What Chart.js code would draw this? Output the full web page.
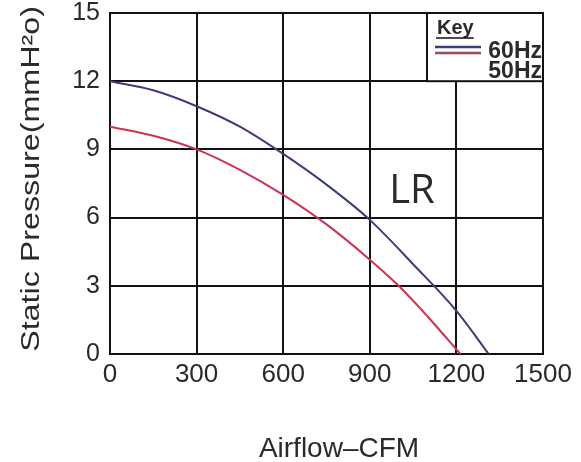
<!DOCTYPE html>
<html>
<head>
<meta charset="utf-8">
<script src="https://cdn.jsdelivr.net/npm/chart.js@4/dist/chart.umd.min.js"></script>
<style>
  html, body { margin: 0; padding: 0; background: #fff; }
  #wrap { width: 581px; height: 462px; }
</style>
</head>
<body>
<div id="wrap"><canvas id="fanChart" width="581" height="462"></canvas></div>
<script>
// Fan curve data
const airflow60 = [0, 150, 300, 450, 600, 750, 900, 1050, 1200, 1312];
const pressure60 = [12, 11.6, 10.9, 10, 8.8, 7.45, 5.9, 3.95, 1.9, 0];
const airflow50 = [0, 150, 300, 450, 600, 750, 900, 1000, 1100, 1214];
const pressure50 = [10, 9.6, 9.0, 8.1, 7.0, 5.7, 4.15, 3.0, 1.65, 0];
const seriesNames = ['60Hz', '50Hz'];
const xTicks = [0, 300, 600, 900, 1200, 1500];
const yTicks = [0, 3, 6, 9, 12, 15];
const xTitle = 'Airflow–CFM';
const yTitle = 'Static Pressure(mmH²o)';
const modelName = 'LR';

const BLUE = '#3a3d7c';
const RED = '#cc3350';
const INK = '#2a2a2a';
const SANS = '"Liberation Sans", Arial, sans-serif';

function toPoints(xs, ys) {
    return xs.map((x, i) => ({ x: x, y: ys[i] }));
}

// Key box, model name and the axis titles
const decorPlugin = {
    id: 'decor',
    afterDatasetsDraw(chart) {
        const ctx = chart.ctx;
        const area = chart.chartArea;
        const right = area.right;
        const top = area.top;
        const left = right - 116;
        const bottom = chart.scales.y.getPixelForValue(12);

        ctx.save();
        ctx.fillStyle = '#fff';
        ctx.fillRect(left, top, right - left, bottom - top);
        ctx.strokeStyle = '#111';
        ctx.lineWidth = 2;
        ctx.strokeRect(left, top, right - left, bottom - top);

        // "Key" underlined
        ctx.fillStyle = INK;
        ctx.font = 'bold 20px ' + SANS;
        ctx.textBaseline = 'alphabetic';
        ctx.textAlign = 'left';
        ctx.fillText('Key', left + 10, top + 21);
        const kw = ctx.measureText('Key').width;
        ctx.lineWidth = 1.5;
        ctx.beginPath();
        ctx.moveTo(left + 9, top + 25);
        ctx.lineTo(left + 10 + kw, top + 25);
        ctx.stroke();

        // key lines
        ctx.lineWidth = 2.5;
        ctx.strokeStyle = BLUE;
        ctx.beginPath();
        ctx.moveTo(left + 8, top + 34);
        ctx.lineTo(left + 54, top + 34);
        ctx.stroke();
        ctx.strokeStyle = '#a04a60';
        ctx.beginPath();
        ctx.moveTo(left + 8, top + 40);
        ctx.lineTo(left + 54, top + 40);
        ctx.stroke();

        ctx.font = 'bold 23px ' + SANS;
        ctx.textAlign = 'right';
        ctx.fillText(seriesNames[0], right - 1, top + 45);
        ctx.fillText(seriesNames[1], right - 1, top + 65);

        // model name
        ctx.font = '40px "Open Sans", "Noto Sans", sans-serif';
        ctx.textAlign = 'center';
        ctx.textBaseline = 'alphabetic';
        ctx.fillStyle = '#2a2a2a';
        ctx.fillText(modelName, 412, 203);

        // x title
        ctx.fillStyle = INK;
        ctx.font = '28px ' + SANS;
        ctx.fillText(xTitle, 339, 457);

        // y title, rotated and stretched along its length
        ctx.translate(39, 179);
        ctx.rotate(-Math.PI / 2);
        ctx.scale(1.24, 1);
        ctx.font = '26px ' + SANS;
        ctx.fillText(yTitle, 0, 0);
        ctx.restore();
    }
};

const ctx = document.getElementById('fanChart');
new Chart(ctx, {
    type: 'scatter',
    data: {
        datasets: [
            {
                label: seriesNames[0],
                data: toPoints(airflow60, pressure60),
                showLine: true,
                borderColor: BLUE,
                borderWidth: 2,
                pointRadius: 0,
                cubicInterpolationMode: 'monotone',
                fill: false
            },
            {
                label: seriesNames[1],
                data: toPoints(airflow50, pressure50),
                showLine: true,
                borderColor: RED,
                borderWidth: 2,
                pointRadius: 0,
                cubicInterpolationMode: 'monotone',
                fill: false
            }
        ]
    },
    options: {
        responsive: false,
        animation: false,
        layout: {
            padding: { top: 13, right: 38, bottom: 0, left: 0 }
        },
        plugins: {
            legend: { display: false },
            tooltip: { enabled: false }
        },
        scales: {
            x: {
                type: 'linear',
                min: 0,
                max: 1500,
                afterBuildTicks: (scale) => { scale.ticks = xTicks.map(v => ({ value: v })); },
                afterFit: (scale) => {
                    scale.height = 108;
                    scale.paddingLeft = 0;
                    scale.paddingRight = 0;
                },
                grid: { color: '#111', lineWidth: 2, drawTicks: false },
                border: { color: '#111', width: 2 },
                ticks: {
                    color: INK,
                    padding: 8,
                    callback: (v) => String(v),
                    font: { family: SANS, size: 26, lineHeight: 1 }
                }
            },
            y: {
                type: 'linear',
                min: 0,
                max: 15,
                afterBuildTicks: (scale) => { scale.ticks = yTicks.map(v => ({ value: v })); },
                afterFit: (scale) => {
                    scale.width = 110;
                    scale.paddingTop = 0;
                    scale.paddingBottom = 0;
                },
                grid: { color: '#111', lineWidth: 2, drawTicks: false },
                border: { color: '#111', width: 2 },
                ticks: {
                    color: INK,
                    padding: 10,
                    callback: (v) => String(v),
                    font: { family: SANS, size: 25, lineHeight: 1 }
                }
            }
        }
    },
    plugins: [decorPlugin]
});
</script>
</body>
</html>
